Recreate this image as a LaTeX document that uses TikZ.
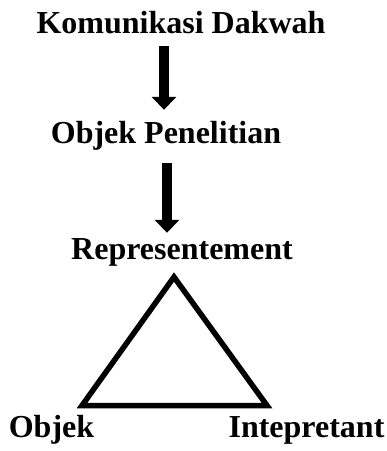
\documentclass[tikz,border=0pt]{standalone}
\usepackage{fontspec}
\setmainfont{Liberation Serif}
\usetikzlibrary{arrows.meta}

\begin{document}
\begin{tikzpicture}[x=1pt, y=-1pt, font=\fontsize{32}{38}\selectfont\bfseries,
  lbl/.style={inner sep=0pt, text height=22pt, text depth=7pt, anchor=base},
  blk/.style={line width=10pt, -{Triangle[width=24pt, length=13pt]}},
  tri/.style={line width=5.5pt, line join=miter}]
\useasboundingbox (0,0) rectangle (387,451);
\node[lbl] (kom) at (181,33) {Komunikasi Dakwah};
\node[lbl] (obj) at (166,143) {Objek Penelitian};
\node[lbl] (rep) at (182,259) {Representement};
\node[lbl] (objek) at (51.5,437) {Objek};
\node[lbl] (intp) at (306.5,437) {Intepretant};
\draw[blk, shorten <=6pt, shorten >=11pt] ([xshift=-17pt]kom.south) -- ([xshift=-17pt]kom.south |- obj.north);
\draw[blk, shorten <=13pt, shorten >=4pt] ([xshift=1pt]obj.south) -- ([xshift=1pt]obj.south |- rep.north);
% segitiga
\coordinate (t1) at (174,277); \coordinate (t2) at (82,405.5); \coordinate (t3) at (267,405.5);
\draw[tri] (t1) -- (t2) -- (t3) -- cycle;
\end{tikzpicture}
\end{document}
